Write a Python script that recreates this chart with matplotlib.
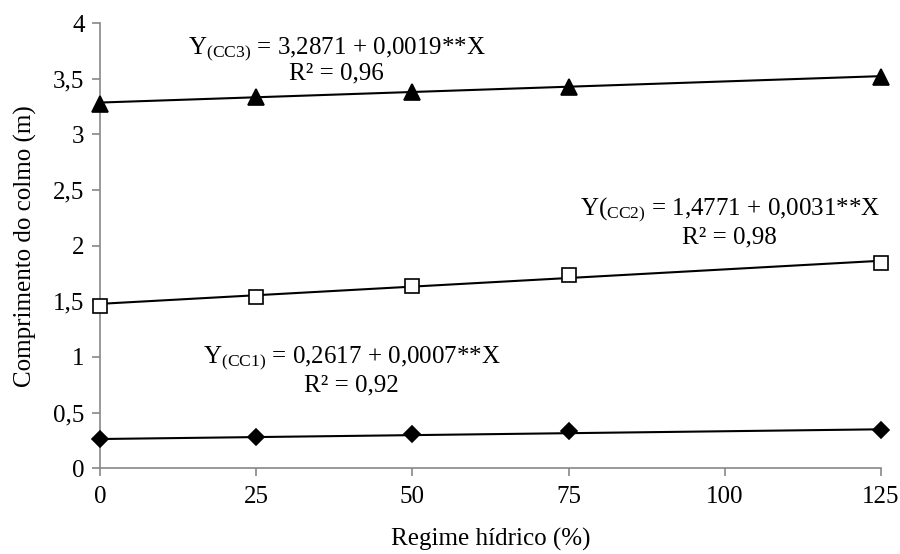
import matplotlib
matplotlib.use("Agg")
import matplotlib.pyplot as plt
import numpy as np

plt.rcParams['font.family'] = ['Liberation Serif', 'DejaVu Serif']
plt.rcParams['mathtext.fontset'] = 'custom'
plt.rcParams['mathtext.rm'] = 'Liberation Serif'
plt.rcParams['mathtext.it'] = 'Liberation Serif:italic'

x = [0, 25, 50, 75, 125]
cc1 = [0.26, 0.28, 0.305, 0.33, 0.345]
cc2 = [1.46, 1.54, 1.64, 1.74, 1.84]
cc3 = [3.27, 3.34, 3.38, 3.43, 3.52]

# regression coefficients (intercept, slope)
coef1 = (0.2617, 0.0007)
coef2 = (1.4771, 0.0031)
coef3 = (3.2871, 0.0019)

xticks = [0, 25, 50, 75, 100, 125]
yticks = [0, 0.5, 1, 1.5, 2, 2.5, 3, 3.5, 4]
ytick_labels = ['0', '0,5', '1', '1,5', '2', '2,5', '3', '3,5', '4']

fig = plt.figure(figsize=(9, 5.54), dpi=100)
ax = fig.add_axes([0.111, 0.155, 0.868, 0.803])

xs = np.array([0, 125])
for data, coef, mk, fc, ms in [
    (cc1, coef1, 'D', 'black', 8.5),
    (cc2, coef2, 's', 'white', 10),
    (cc3, coef3, '^', 'black', 11),
]:
    ax.plot(xs, coef[0] + coef[1] * xs, color='black', lw=1.5, zorder=2, clip_on=False)
    ax.plot(x, data, linestyle='none', marker=mk, markerfacecolor=fc,
            markeredgecolor='black', markeredgewidth=1.2, markersize=ms,
            zorder=3, clip_on=False)

ax.set_xlim(0, 125)
ax.set_ylim(0, 4)
ax.set_xticks(xticks)
ax.set_xticklabels([str(t) for t in xticks])
ax.set_yticks(yticks)
ax.set_yticklabels(ytick_labels)

for s in ['top', 'right']:
    ax.spines[s].set_visible(False)
for s in ['left', 'bottom']:
    ax.spines[s].set_color('#888888')
    ax.spines[s].set_linewidth(1.2)
fs = 18
ax.tick_params(axis='both', direction='out', length=6, width=1.2, color='#888888',
               labelsize=fs, labelcolor='black')
ax.tick_params(axis='x', pad=7)
ax.tick_params(axis='y', pad=5)

ax.set_xlabel('Regime hídrico (%)', fontsize=fs, labelpad=14)
ax.set_ylabel('Comprimento do colmo (m)', fontsize=fs, labelpad=12)

ax.text(37.9, 3.77, r'Y$_{\mathrm{(CC3)}}$ = 3,2871 + 0,0019**X', fontsize=fs, ha='center', va='center')
ax.text(37.9, 3.55, 'R² = 0,96', fontsize=fs, ha='center', va='center')
ax.text(100.8, 2.32, r'Y($_{\mathrm{CC2)}}$ = 1,4771 + 0,0031**X', fontsize=fs, ha='center', va='center')
ax.text(100.8, 2.07, 'R² = 0,98', fontsize=fs, ha='center', va='center')
ax.text(40.3, 0.99, r'Y$_{\mathrm{(CC1)}}$ = 0,2617 + 0,0007**X', fontsize=fs, ha='center', va='center')
ax.text(40.3, 0.74, 'R² = 0,92', fontsize=fs, ha='center', va='center')

fig.savefig('out.png', dpi=100)
